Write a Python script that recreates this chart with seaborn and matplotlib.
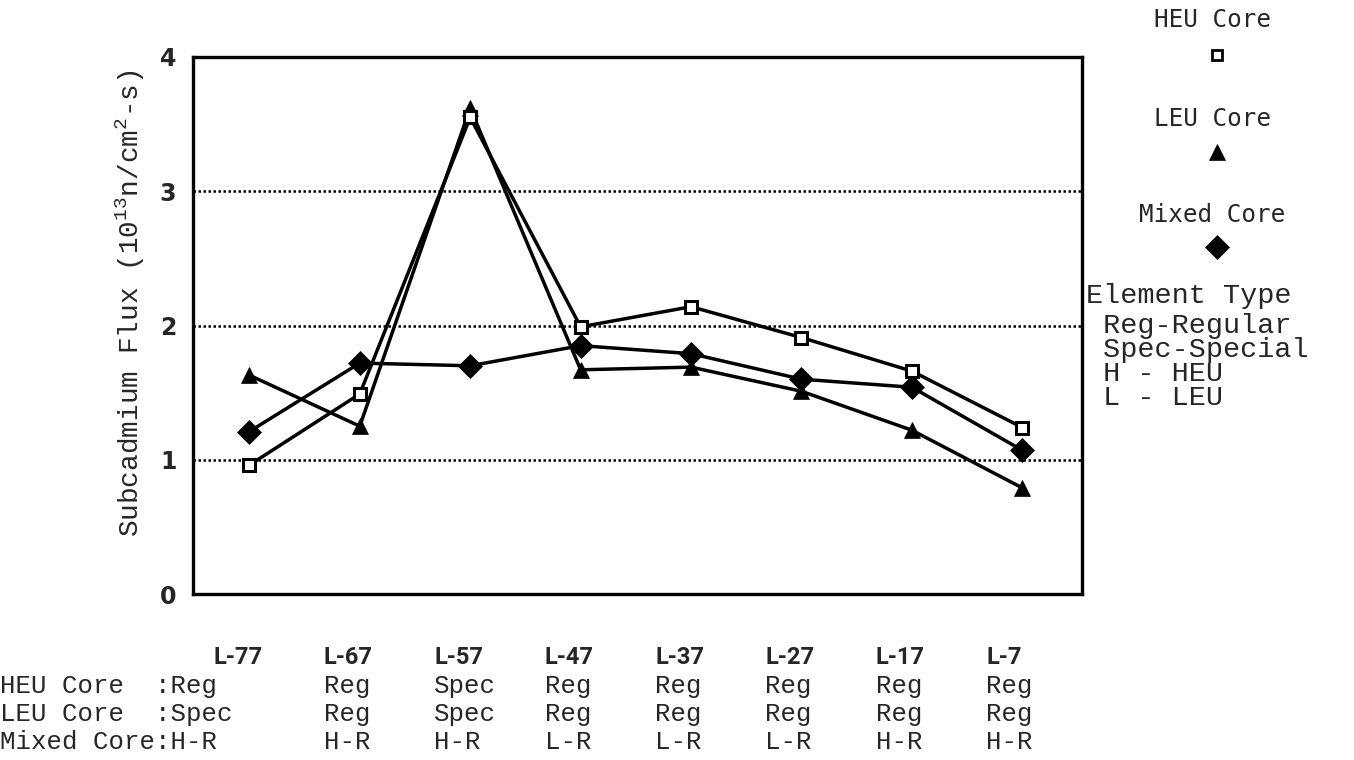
import matplotlib
matplotlib.use("Agg")
import matplotlib.pyplot as plt
import matplotlib.transforms as mtransforms
from matplotlib.lines import Line2D
import numpy as np
import pandas as pd
import seaborn as sns

# Fuel element positions along the core row
positions = ["L-77", "L-67", "L-57", "L-47", "L-37", "L-27", "L-17", "L-7"]

# Subcadmium flux, 10^13 n/cm^2-s
heu_flux = [0.96, 1.49, 3.55, 1.99, 2.14, 1.91, 1.66, 1.24]
leu_flux = [1.63, 1.25, 3.62, 1.67, 1.69, 1.51, 1.22, 0.79]
mixed_flux = [1.21, 1.72, 1.70, 1.85, 1.79, 1.60, 1.54, 1.07]

# Element type loaded at each position
heu_types = ["Reg", "Reg", "Spec", "Reg", "Reg", "Reg", "Reg", "Reg"]
leu_types = ["Spec", "Reg", "Spec", "Reg", "Reg", "Reg", "Reg", "Reg"]
mixed_types = ["H-R", "H-R", "H-R", "L-R", "L-R", "L-R", "H-R", "H-R"]

series_names = ["HEU Core", "LEU Core", "Mixed Core"]
y_ticks = [0, 1, 2, 3, 4]
type_key = ["Element Type", " Reg-Regular", " Spec-Special", " H - HEU", " L - LEU"]

sns.set_style("white")
plt.rcParams["font.family"] = ["DejaVu Sans"]
plt.rcParams["mathtext.fontset"] = "custom"
plt.rcParams["mathtext.rm"] = "Liberation Mono"
plt.rcParams["mathtext.it"] = "Liberation Mono"

W, H = 1354, 760
fig = plt.figure(figsize=(W / 100, H / 100), dpi=100)
fig.patch.set_facecolor("white")


def fx(x):
    return x / W


def fy(y):
    return 1 - y / H


ax = fig.add_axes([fx(193), fy(594), fx(1082) - fx(193), fy(57) - fy(594)])

idx = np.arange(len(positions))
df = pd.DataFrame({
    "pos": np.tile(idx, 3),
    "flux": heu_flux + leu_flux + mixed_flux,
    "core": np.repeat(series_names, len(positions)),
})

styles = {
    "HEU Core": dict(marker="s", markersize=8, markerfacecolor="white",
                     markeredgecolor="black", markeredgewidth=2.2),
    "LEU Core": dict(marker="^", markersize=11, markerfacecolor="black",
                     markeredgecolor="black", markeredgewidth=0.5),
    "Mixed Core": dict(marker="D", markersize=12, markerfacecolor="black",
                       markeredgecolor="black", markeredgewidth=0.5),
}
for name in ["LEU Core", "Mixed Core", "HEU Core"]:
    sub = df[df["core"] == name]
    sns.lineplot(data=sub, x="pos", y="flux", color="black", linewidth=2.5,
                 ax=ax, legend=False, **styles[name])

ax.set_xlim(-0.51, 7.54)
ax.set_ylim(0, 4)
ax.set_yticks(y_ticks)
ax.set_yticklabels([str(t) for t in y_ticks], fontsize=17, fontweight="bold",
                   family="DejaVu Sans")
ax.tick_params(axis="y", length=0, pad=12)
ax.set_xlabel("")
ax.set_ylabel("")
for s in ax.spines.values():
    s.set_color("black")
    s.set_linewidth(2.4)
for v in [1, 2, 3]:
    ax.axhline(v, color="black", linewidth=1.8, linestyle=(0, (1, 1)), zorder=0)

# Position labels and element-type table below the axes
ax.set_xticks([])
col_tf = mtransforms.blended_transform_factory(ax.transData, fig.transFigure) + \
    mtransforms.ScaledTranslation(-36 / 100, 0, fig.dpi_scale_trans)
for i, p in enumerate(positions):
    ax.text(i, fy(657), p, transform=col_tf, ha="left", va="center",
            fontsize=17, family="Roboto", fontweight="bold", clip_on=False)

table_font = dict(fontsize=18.5, family="Liberation Mono", va="center")
rows = [("HEU Core  :", heu_types, 686), ("LEU Core  :", leu_types, 714),
        ("Mixed Core:", mixed_types, 742)]
for head, vals, ypix in rows:
    fig.text(fx(0), fy(ypix), head + vals[0], ha="left", **table_font)
    for i in range(1, len(vals)):
        ax.text(i, fy(ypix), vals[i], transform=col_tf, ha="left",
                clip_on=False, **table_font)

# Y axis title
fig.text(fx(130), fy(303), r"Subcadmium Flux (10$^{13}$n/cm$^{2}$-s)",
         rotation=90, ha="center", va="center", fontsize=20,
         family="Liberation Mono")

# Marker key at the right
key_marks = [("HEU Core", 20, 55), ("LEU Core", 119, 152), ("Mixed Core", 215, 247)]
for (name, ty, my) in key_marks:
    fig.text(fx(1212), fy(ty), name, ha="center", va="center", fontsize=17.5,
             family="DejaVu Sans Mono")
    st = dict(styles[name])
    if name == "HEU Core":
        st["markersize"] = 7
        st["markeredgewidth"] = 2.0
    fig.add_artist(Line2D([fx(1217)], [fy(my)], transform=fig.transFigure,
                          linestyle="none", **st))

key_y = [296, 326, 350, 374, 398]
for text, ypix in zip(type_key, key_y):
    fig.text(fx(1086), fy(ypix), text, ha="left", va="center", fontsize=20.5,
             family="Liberation Mono")

fig.savefig("out.png", dpi=100, facecolor="white")
